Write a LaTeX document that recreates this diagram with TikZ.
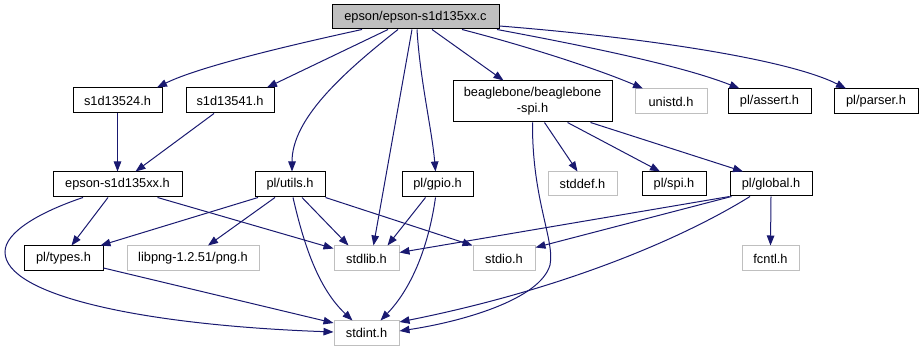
\documentclass[tikz,border=0pt]{standalone}
\usepackage{fontspec}
\setmainfont{Liberation Sans}
\usetikzlibrary{arrows.meta}
\definecolor{edgeblue}{HTML}{191970}
\definecolor{extgray}{HTML}{BFBFBF}
\begin{document}
\begin{tikzpicture}[x=1pt,y=-1pt,
  file/.style={draw=black, line width=1pt, inner sep=0pt, minimum height=25pt,
    font=\fontsize{12.8}{16}\selectfont, text=black, align=center},
  sysfile/.style={file, draw=extgray},
  link/.style={draw=edgeblue, line width=1pt,
    -{Triangle[length=10pt,width=7.5pt,fill=edgeblue]}}]
\useasboundingbox (0,0) rectangle (923,352);

% files
\node[file, fill=extgray, minimum width=167pt, minimum height=24pt] (root) at (415.5,17) {epson/epson-s1d135xx.c};
\node[file, minimum width=89pt] (s24) at (117.5,100.5) {s1d13524.h};
\node[file, minimum width=88pt] (s41) at (230,100.5) {s1d13541.h};
\node[file, minimum width=159pt, minimum height=41pt] (bb) at (532.5,101.5) {beaglebone/beaglebone\\-spi.h};
\node[sysfile, minimum width=72pt] (uni) at (671,101.5) {unistd.h};
\node[file, minimum width=83pt] (ass) at (769.5,101.5) {pl/assert.h};
\node[file, minimum width=84pt] (par) at (876,101.5) {pl/parser.h};

\node[file, minimum width=129pt] (eh) at (117.5,184.5) {epson-s1d135xx.h};
\node[file, minimum width=70pt] (ut) at (290,184.5) {pl/utils.h};
\node[file, minimum width=71pt] (gp) at (437.5,184.5) {pl/gpio.h};
\node[sysfile, minimum width=69pt, minimum height=24pt] (sdf) at (582.5,184) {stddef.h};
\node[file, minimum width=64pt, minimum height=24pt] (spi) at (674,184) {pl/spi.h};
\node[file, minimum width=82pt, minimum height=24pt] (gl) at (771,184) {pl/global.h};

\node[file, minimum width=79pt] (ty) at (63.5,258.5) {pl/types.h};
\node[sysfile, minimum width=132pt] (png) at (193,258.5) {libpng-1.2.51/png.h};
\node[sysfile, minimum width=65pt] (sl) at (366.5,258.5) {stdlib.h};
\node[sysfile, minimum width=62pt] (sio) at (504,258.5) {stdio.h};
\node[sysfile, minimum width=57pt] (fc) at (770.5,258.5) {fcntl.h};

\node[sysfile, minimum width=65pt, minimum height=24pt] (si) at (366.5,333) {stdint.h};

% includes of the source file
\draw[link] ([xshift=-53.5pt]root.south) .. controls (300,43) and (200,66) .. ([xshift=39.5pt]s24.north);
\draw[link] ([xshift=-27.5pt]root.south) -- ([xshift=37pt]s41.north);
\draw[link] ([xshift=-17.5pt]root.south) .. controls (340,75) and (292,120) .. ([xshift=2pt]ut.north);
\draw[link] ([xshift=-3.5pt]root.south) -- ([xshift=7pt]sl.north);
\draw[link] ([xshift=1.5pt]root.south) .. controls (420,80) and (432,130) .. ([xshift=-2pt]gp.north);
\draw[link] ([xshift=16.5pt]root.south) -- ([xshift=-29pt]bb.north);
\draw[link] ([xshift=46.5pt]root.south) .. controls (530,47) and (600,70) .. ([xshift=-28pt]uni.north);
\draw[link] ([xshift=81.5pt]root.south) .. controls (580,45) and (680,65) .. ([xshift=-30pt]ass.north);
\draw[link] ([yshift=-9pt]root.east) .. controls (650,38) and (790,60) .. ([xshift=-30pt]par.north);

% controller headers and epson-s1d135xx.h
\draw[link] (s24.south) -- (eh.north);
\draw[link] ([xshift=-16pt]s41.south) -- ([xshift=18pt]eh.north);
\draw[link] ([xshift=-9.5pt]eh.south) -- ([xshift=8pt]ty.north);
\draw[link] ([xshift=40pt]eh.south) -- ([yshift=-3pt]sl.north west);
\draw[link] ([xshift=-34.5pt]eh.south) .. controls (40,212) and (5,232) .. (5,252)
  .. controls (5,295) and (140,325) .. ([yshift=1pt]si.west);

% utilities
\draw[link] ([xshift=-32pt]ut.south) -- ([xshift=37pt]ty.north);
\draw[link] ([xshift=-15pt]ut.south) -- ([xshift=15pt]png.north);
\draw[link] ([xshift=12pt]ut.south) -- ([xshift=-18pt]sl.north);
\draw[link] ([xshift=3pt]ut.south) .. controls (305,250) and (320,290) .. ([xshift=-14pt]si.north);
\draw[link] (ut.south east) -- (sio.north west);

% gpio
\draw[link] ([xshift=-12pt]gp.south) -- ([xshift=21pt]sl.north);
\draw[link] ([xshift=-2pt]gp.south) .. controls (428,250) and (410,290) .. ([xshift=14pt]si.north);

% beaglebone spi
\draw[link] ([xshift=12pt]bb.south) -- ([xshift=-5pt]sdf.north);
\draw[link] ([xshift=35pt]bb.south) -- ([xshift=-14pt]spi.north);
\draw[link] ([xshift=58pt]bb.south) -- ([xshift=-28pt]gl.north);
\draw[link] (bb.south) .. controls (532,200) and (555,240) .. (550,265)
  .. controls (540,300) and (460,322) .. ([yshift=2pt]si.east);

% global
\draw[link] (gl.south west) -- ([yshift=6pt]sl.east);
\draw[link] ([xshift=2pt]gl.south west) -- ([yshift=-2pt]sio.north east);
\draw[link] ([xshift=-21pt]gl.south) .. controls (680,240) and (560,290) .. ([yshift=11pt]si.east);
\draw[link] (gl.south) -- (fc.north);

% types
\draw[link] ([yshift=-9.5pt]ty.east) -- ([yshift=10pt]si.west);
\end{tikzpicture}
\end{document}
